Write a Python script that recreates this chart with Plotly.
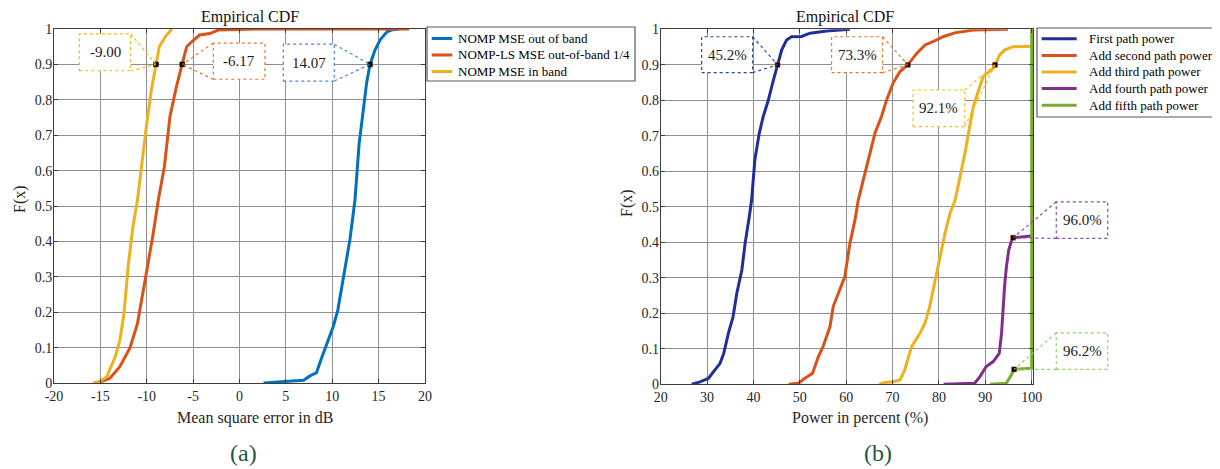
import plotly.graph_objects as go

# ---------------- data: panel (a) ----------------
left_names = ["NOMP MSE out of band", "NOMP-LS MSE out-of-band 1/4", "NOMP MSE in band"]
left_colors = ["#0072BD", "#D95319", "#EDB120"]

x_nomp_out = [2.6, 4.7, 6.9, 7.6, 8.3, 8.9, 9.6, 10.1, 10.6, 11.2, 11.9, 12.45, 12.9, 13.35, 13.7, 14.07, 14.6, 15.15, 15.9, 16.5, 17.2]
F_nomp_out = [0, 0.003, 0.008, 0.02, 0.029, 0.074, 0.121, 0.159, 0.206, 0.30, 0.404, 0.517, 0.677, 0.771, 0.847, 0.9, 0.94, 0.969, 0.992, 0.998, 1.0]

x_nompls = [-15.3, -14.0, -12.9, -11.8, -11.0, -10.4, -9.8, -9.3, -8.75, -8.1, -7.5, -6.8, -6.17, -5.7, -5.15, -4.3, -3.2, -2.3, 1.9, 18.3]
F_nompls = [0, 0.013, 0.046, 0.10, 0.168, 0.253, 0.347, 0.423, 0.517, 0.611, 0.752, 0.837, 0.9, 0.95, 0.964, 0.983, 0.987, 0.997, 1.0, 1.0]

x_nomp_in = [-15.8, -15.0, -14.3, -13.4, -12.9, -12.45, -12.0, -11.5, -11.0, -10.45, -10.0, -9.5, -9.0, -8.65, -8.0, -7.3]
F_nomp_in = [0, 0.005, 0.018, 0.074, 0.12, 0.197, 0.33, 0.44, 0.517, 0.64, 0.733, 0.828, 0.9, 0.95, 0.978, 1.0]

left_x_ticks = [-20, -15, -10, -5, 0, 5, 10, 15, 20]
left_x_labels = ["-20", "-15", "-10", "-5", "0", "5", "10", "15", "20"]

# ---------------- data: panel (b) ----------------
right_names = ["First path power", "Add second path power", "Add third path power",
               "Add fourth path power", "Add fifth path power"]
right_colors = ["#1F2F98", "#D95319", "#EDB120", "#7E2F8E", "#77AC30"]

x_p1 = [26.7, 28.5, 30.3, 31.7, 32.8, 33.6, 34.6, 35.6, 36.4, 37.5, 38.2, 39.1, 39.6, 40.3, 41.25, 42.1, 43.2, 44.3, 45.2, 46.1, 47.15, 48.2, 50.4, 52.2, 55.8, 60.8]
F_p1 = [0, 0.007, 0.017, 0.04, 0.059, 0.087, 0.144, 0.19, 0.256, 0.322, 0.397, 0.472, 0.519, 0.632, 0.707, 0.754, 0.80, 0.857, 0.9, 0.942, 0.97, 0.979, 0.98, 0.989, 0.995, 1.0]

x_p2 = [47.6, 49.7, 51.1, 52.75, 54.0, 55.0, 56.5, 57.2, 58.6, 59.7, 60.8, 61.9, 62.6, 64.0, 65.1, 66.2, 67.6, 68.7, 70.1, 71.6, 73.3, 75.2, 77.0, 78.7, 80.9, 83.4, 87.4, 94.9]
F_p2 = [0, 0.003, 0.017, 0.031, 0.078, 0.106, 0.162, 0.219, 0.266, 0.303, 0.397, 0.463, 0.519, 0.594, 0.651, 0.707, 0.754, 0.80, 0.848, 0.881, 0.9, 0.932, 0.956, 0.965, 0.979, 0.99, 0.998, 1.0]

x_p3 = [67.1, 68.3, 70.1, 71.6, 72.6, 74.1, 75.9, 77.0, 78.0, 79.3, 80.4, 81.3, 82.4, 83.5, 85.6, 86.65, 87.4, 88.1, 88.8, 89.5, 90.6, 91.7, 92.1, 93.1, 94.2, 96.0, 99.9]
F_p3 = [0, 0.005, 0.007, 0.012, 0.04, 0.106, 0.144, 0.172, 0.219, 0.30, 0.369, 0.425, 0.482, 0.519, 0.651, 0.726, 0.782, 0.81, 0.838, 0.866, 0.878, 0.89, 0.9, 0.928, 0.942, 0.951, 0.952]

x_p4 = [81.0, 87.7, 88.8, 90.2, 91.7, 93.0, 93.5, 93.8, 94.2, 94.55, 95.05, 95.6, 96.0, 99.9]
F_p4 = [0, 0.003, 0.021, 0.05, 0.064, 0.087, 0.144, 0.209, 0.284, 0.331, 0.378, 0.402, 0.413, 0.418]

x_p5 = [91.0, 94.5, 95.6, 96.2, 99.9, 100.0, 100.0]
F_p5 = [0, 0.003, 0.026, 0.042, 0.045, 0.045, 1.0]

right_x_ticks = [20, 30, 40, 50, 60, 70, 80, 90, 100]
right_x_labels = ["20", "30", "40", "50", "60", "70", "80", "90", "100"]

y_ticks = [0, 0.1, 0.2, 0.3, 0.4, 0.5, 0.6, 0.7, 0.8, 0.9, 1.0]
y_labels = ["0", "0.1", "0.2", "0.3", "0.4", "0.5", "0.6", "0.7", "0.8", "0.9", "1"]

# data tips: label, point x, point y, box [x0, x1, y0, y1] (data units), color
left_tips = [
    ("-9.00", -9.00, 0.9, [-17.27, -11.73, 0.882, 0.986], "#F2B811"),
    ("-6.17", -6.17, 0.9, [-2.82, 2.75, 0.858, 0.960], "#E8762C"),
    ("14.07", 14.07, 0.9, [4.72, 10.22, 0.853, 0.957], "#4A86D6"),
]
right_tips = [
    ("45.2%", 45.2, 0.9, [28.83, 39.82, 0.878, 0.979], "#2A4A8F"),
    ("73.3%", 73.3, 0.9, [56.85, 67.83, 0.878, 0.979], "#E8762C"),
    ("92.1%", 92.1, 0.9, [74.43, 85.57, 0.726, 0.829], "#F5C211"),
    ("96.0%", 96.0, 0.413, [105.3, 116.4, 0.411, 0.514], "#8E44AD"),
    ("96.2%", 96.2, 0.042, [105.3, 116.4, 0.042, 0.145], "#8FD16A"),
]

# ---------------- layout constants ----------------
# the page body has an 8px margin, so the figure is drawn 8px in from the window corner
OFF = 8
W, H = 1220 - OFF, 469 - OFF
SERIF = "Liberation Serif"
XL_RANGE = [-20, 20]
XR_RANGE = [20, 100.35]
Y_RANGE = [0, 1]


def px(x):
    return (x - OFF) / W


def py(y):
    return 1 - (y - OFF) / H


fig = go.Figure()

for xs, fs, name, col in zip([x_nomp_out, x_nompls, x_nomp_in],
                             [F_nomp_out, F_nompls, F_nomp_in], left_names, left_colors):
    fig.add_trace(go.Scatter(x=xs, y=fs, mode="lines", name=name, showlegend=False,
                             line=dict(color=col, width=3), xaxis="x", yaxis="y"))

for xs, fs, name, col in zip([x_p1, x_p2, x_p3, x_p4, x_p5],
                             [F_p1, F_p2, F_p3, F_p4, F_p5], right_names, right_colors):
    fig.add_trace(go.Scatter(x=xs, y=fs, mode="lines", name=name, showlegend=False,
                             line=dict(color=col, width=3), xaxis="x2", yaxis="y2"))

# data-tip markers
fig.add_trace(go.Scatter(x=[t[1] for t in left_tips], y=[t[2] for t in left_tips], mode="markers",
                         showlegend=False, cliponaxis=False,
                         marker=dict(symbol="square", size=5, color="black",
                                     line=dict(color="#333333", width=0.5)),
                         xaxis="x", yaxis="y"))
fig.add_trace(go.Scatter(x=[t[1] for t in right_tips], y=[t[2] for t in right_tips], mode="markers",
                         showlegend=False, cliponaxis=False,
                         marker=dict(symbol="square", size=5, color="black",
                                     line=dict(color="#D95319", width=0.5)),
                         xaxis="x2", yaxis="y2"))

shapes = []
annotations = []


def add_tips(tips, xr, xref, yref):
    def dx(v):
        return (v - xr[0]) / (xr[1] - xr[0])

    def dy(v):
        return (v - Y_RANGE[0]) / (Y_RANGE[1] - Y_RANGE[0])

    for label, x, y, box, col in tips:
        x0, x1, y0, y1 = box
        cx = x1 if x > x1 else x0
        for cy in (y0, y1):
            shapes.append(dict(type="line", xref=xref, yref=yref, x0=dx(cx), y0=dy(cy),
                               x1=dx(x), y1=dy(y), layer="above",
                               line=dict(color=col, width=1.2, dash="dot")))
        shapes.append(dict(type="rect", xref=xref, yref=yref, x0=dx(x0), x1=dx(x1),
                           y0=dy(y0), y1=dy(y1), fillcolor="white", layer="above",
                           line=dict(color=col, width=1.2, dash="dot")))
        annotations.append(dict(xref=xref, yref=yref, x=dx((x0 + x1) / 2), y=dy((y0 + y1) / 2),
                                text=label, showarrow=False, xanchor="center", yanchor="middle",
                                font=dict(family=SERIF, size=15, color="#1a1a1a")))


add_tips(left_tips, XL_RANGE, "x domain", "y domain")
add_tips(right_tips, XR_RANGE, "x2 domain", "y2 domain")


def add_legend(names, colors, box, rows, line_x, text_x):
    x0, y0, x1, y1 = box
    shapes.append(dict(type="rect", xref="paper", yref="paper", x0=px(x0), x1=px(x1),
                       y0=py(y1), y1=py(y0), fillcolor="white", layer="above",
                       line=dict(color="#5a5a5a", width=1.2)))
    for name, col, ry in zip(names, colors, rows):
        shapes.append(dict(type="line", xref="paper", yref="paper", x0=px(line_x[0]), x1=px(line_x[1]),
                           y0=py(ry), y1=py(ry), layer="above", line=dict(color=col, width=3)))
        annotations.append(dict(xref="paper", yref="paper", x=px(text_x), y=py(ry), text=name,
                                showarrow=False, xanchor="left", yanchor="middle",
                                font=dict(family=SERIF, size=13, color="black")))


add_legend(left_names, left_colors, (427, 27, 635, 81), [38.5, 55.0, 71.5], (431.7, 452.3), 455.5)
add_legend(right_names, right_colors, (1037, 28, 1228, 117), [38.8, 55.4, 72.0, 88.6, 105.2],
           (1041.7, 1076.7), 1086.5)


def text(x, y, s, size, color="#262626", angle=0):
    annotations.append(dict(xref="paper", yref="paper", x=px(x), y=py(y), text=s, showarrow=False,
                            xanchor="center", yanchor="middle", textangle=angle,
                            font=dict(family=SERIF, size=size, color=color)))


text(250, 17, "Empirical CDF", 16, "#111111")
text(845, 17, "Empirical CDF", 16, "#111111")
text(254.5, 418, "Mean square error in dB", 16)
text(859.7, 418, "Power in percent (%)", 16)
text(20, 199, "F(x)", 16, angle=-90)
text(627, 203, "F(x)", 16, angle=-90)
text(243.5, 453, "(a)", 24, "#245A3C")
text(877.5, 453, "(b)", 24, "#245A3C")

axis_common = dict(showgrid=True, gridcolor="#8f8f8f", gridwidth=1, zeroline=False,
                   showline=True, linecolor="#3c3c3c", linewidth=1, mirror="ticks",
                   ticks="inside", ticklen=4, tickcolor="#3c3c3c", automargin=False,
                   tickfont=dict(family=SERIF, size=14, color="#262626"))

r_right_px = 660.7 + (XR_RANGE[1] - 20) * (371.0 / 80.0)

fig.update_layout(
    width=W, height=H, margin=dict(l=0, r=0, t=0, b=0, autoexpand=False),
    paper_bgcolor="white", plot_bgcolor="white",
    showlegend=False,
    font=dict(family=SERIF),
    xaxis=dict(domain=[px(54), px(425)], range=XL_RANGE, tickvals=left_x_ticks,
               ticktext=left_x_labels, anchor="y", **axis_common),
    yaxis=dict(domain=[py(383), py(29)], range=Y_RANGE, tickvals=y_ticks, ticktext=y_labels,
               anchor="x", ticklabelstandoff=-2, **axis_common),
    xaxis2=dict(domain=[px(660.7), px(r_right_px)], range=XR_RANGE, tickvals=right_x_ticks,
                ticktext=right_x_labels, anchor="y2", **axis_common),
    yaxis2=dict(domain=[py(384.3), py(29.3)], range=Y_RANGE, tickvals=y_ticks, ticktext=y_labels,
                anchor="x2", ticklabelstandoff=-2, **axis_common),
    shapes=shapes, annotations=annotations,
)

fig.write_html("out.html")
